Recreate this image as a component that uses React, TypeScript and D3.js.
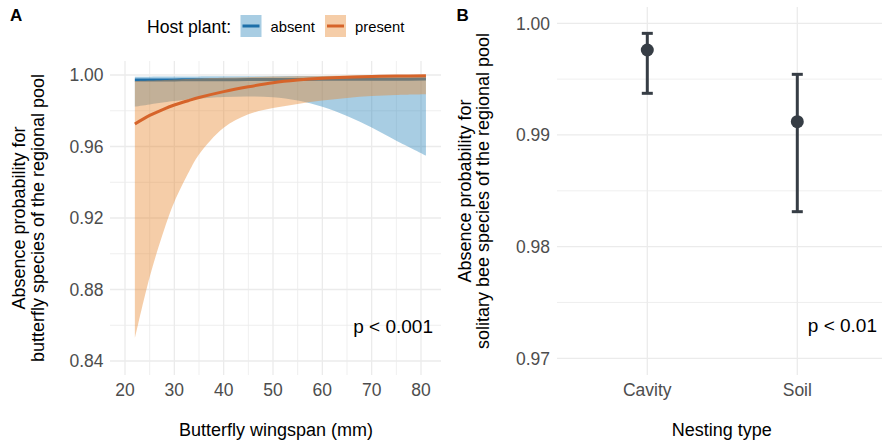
import React from "react";
import * as d3 from "d3";

// Panel A data: butterfly wingspan (mm)
const wingspan = [22, 25, 28, 30, 33, 35, 40, 45, 50, 55, 60, 65, 70, 75, 81];
const absentFit = [0.9972, 0.99722, 0.99725, 0.99727, 0.9973, 0.99732, 0.99737, 0.99742, 0.99747, 0.99752, 0.99757, 0.99761, 0.99765, 0.99768, 0.9977];
const absentUpper = [0.999, 0.99905, 0.9991, 0.99912, 0.99915, 0.99918, 0.99925, 0.9993, 0.99935, 0.9994, 0.99945, 0.9995, 0.99955, 0.9996, 0.99965];
const absentLower = [0.9823, 0.9835, 0.9847, 0.9854, 0.9863, 0.9868, 0.9877, 0.988, 0.9876, 0.9858, 0.9822, 0.977, 0.9706, 0.9632, 0.9549];
const presentFit = [0.9726, 0.9774, 0.9811, 0.9832, 0.9858, 0.9874, 0.9907, 0.9934, 0.9957, 0.9972, 0.9982, 0.9988, 0.9992, 0.9994, 0.9996];
const presentUpper = [0.9966, 0.9969, 0.9972, 0.9975, 0.9978, 0.998, 0.9984, 0.9988, 0.9991, 0.9993, 0.9995, 0.9997, 0.9998, 0.99985, 0.9999];
const presentLower = [0.8527, 0.887, 0.914, 0.929, 0.946, 0.9555, 0.9705, 0.978, 0.9815, 0.9838, 0.9857, 0.9872, 0.9882, 0.9888, 0.9892];
const xTicksA = [20, 30, 40, 50, 60, 70, 80];
const xMinorA = [15, 25, 35, 45, 55, 65, 75];
const yTicksA = [0.84, 0.88, 0.92, 0.96, 1.0];
const yMinorA = [0.86, 0.9, 0.94, 0.98];

// Panel B data: nesting type
const nesting = ["Cavity", "Soil"];
const nestEst = [0.99761, 0.99119];
const nestLower = [0.99373, 0.98313];
const nestUpper = [0.9991, 0.99543];
const yTicksB = [0.97, 0.98, 0.99, 1.0];
const yMinorB = [0.975, 0.985, 0.995];

const FONT = "'Liberation Sans', Arial, Helvetica, sans-serif";
const BLUE = "#1d6fa9";
const ORANGE = "#d6642a";
const BLUE_FILL = "#2682b9";
const ORANGE_FILL = "#e78830";
const DARK = "#363d45";
const GRID = "#ebebeb";
const TICK = "#4d4d4d";

export default function App() {
  // Panel A scales
  const xA = d3.scaleLinear().domain([20, 80]).range([125, 421]);
  const yA = d3.scaleLinear().domain([0.84, 1.0]).range([361, 75]);
  const aLeft = 110, aRight = 441, aTop = 61, aBottom = 375;

  // Panel B scales
  const xB = d3.scalePoint().domain(nesting).range([647.3, 797.3]);
  const yB = d3.scaleLinear().domain([0.97, 1.0]).range([358.3, 23.3]);
  const bLeft = 557, bRight = 882, bTop = 7, bBottom = 375;

  const idx = wingspan.map((_, i) => i);
  const curve = d3.curveCatmullRom.alpha(0.5);
  const area = (lo: number[], hi: number[]) =>
    d3.area<number>()
      .x((i) => xA(wingspan[i]))
      .y0((i) => yA(lo[i]))
      .y1((i) => yA(hi[i]))
      .curve(curve)(idx) || "";
  const line = (v: number[]) =>
    d3.line<number>()
      .x((i) => xA(wingspan[i]))
      .y((i) => yA(v[i]))
      .curve(curve)(idx) || "";

  return (
    <svg width={882} height={441} style={{ position: "absolute", left: 0, top: 0, background: "#fff" }} fontFamily={FONT}>
      {/* ---------- Panel A ---------- */}
      <g>
        {yMinorA.map((v) => (
          <line key={"ym" + v} x1={aLeft} x2={aRight} y1={yA(v)} y2={yA(v)} stroke={GRID} strokeWidth={0.8} />
        ))}
        {xMinorA.filter((v) => xA(v) >= aLeft).map((v) => (
          <line key={"xm" + v} x1={xA(v)} x2={xA(v)} y1={aTop} y2={aBottom} stroke={GRID} strokeWidth={0.8} />
        ))}
        {yTicksA.map((v) => (
          <line key={"yg" + v} x1={aLeft} x2={aRight} y1={yA(v)} y2={yA(v)} stroke={GRID} strokeWidth={1.3} />
        ))}
        {xTicksA.map((v) => (
          <line key={"xg" + v} x1={xA(v)} x2={xA(v)} y1={aTop} y2={aBottom} stroke={GRID} strokeWidth={1.3} />
        ))}

        <path d={area(absentLower, absentUpper)} fill={BLUE_FILL} fillOpacity={0.4} />
        <path d={line(absentFit)} fill="none" stroke={BLUE} strokeWidth={3} />
        <path d={area(presentLower, presentUpper)} fill={ORANGE_FILL} fillOpacity={0.42} />
        <path d={line(presentFit)} fill="none" stroke={ORANGE} strokeWidth={3} />

        {yTicksA.map((v) => (
          <text key={"yt" + v} x={103.5} y={yA(v)} dy="0.36em" textAnchor="end" fontSize={17.5} fill={TICK}>
            {d3.format(".2f")(v)}
          </text>
        ))}
        {xTicksA.map((v) => (
          <text key={"xt" + v} x={xA(v)} y={395.5} textAnchor="middle" fontSize={17.5} fill={TICK}>
            {v}
          </text>
        ))}
        <text x={276} y={435.5} textAnchor="middle" fontSize={18} fill="#000">Butterfly wingspan (mm)</text>
        <g transform={`translate(0, 218) rotate(-90)`}>
          <text x={0} y={25} textAnchor="middle" fontSize={18} fill="#000">Absence probability for</text>
          <text x={0} y={43.5} textAnchor="middle" fontSize={18} fill="#000">butterfly species of the regional pool</text>
        </g>
        <text x={433} y={333} textAnchor="end" fontSize={19} fill="#000">p &lt; 0.001</text>
        <text x={10} y={21} fontSize={17} fontWeight="bold" fill="#000">A</text>

        {/* legend */}
        <text x={147} y={32.5} fontSize={17.6} fill="#000">Host plant:</text>
        <rect x={240.5} y={15} width={21} height={22} fill={BLUE_FILL} fillOpacity={0.4} />
        <line x1={242.5} x2={259.5} y1={26} y2={26} stroke={BLUE} strokeWidth={3} />
        <text x={270.5} y={32} fontSize={14.8} fill="#000">absent</text>
        <rect x={325} y={15} width={21} height={22} fill={ORANGE_FILL} fillOpacity={0.42} />
        <line x1={327} x2={344} y1={26} y2={26} stroke={ORANGE} strokeWidth={3} />
        <text x={355} y={32} fontSize={14.8} fill="#000">present</text>
      </g>

      {/* ---------- Panel B ---------- */}
      <g>
        {yMinorB.map((v) => (
          <line key={"bym" + v} x1={bLeft} x2={bRight} y1={yB(v)} y2={yB(v)} stroke={GRID} strokeWidth={0.8} />
        ))}
        {yTicksB.map((v) => (
          <line key={"byg" + v} x1={bLeft} x2={bRight} y1={yB(v)} y2={yB(v)} stroke={GRID} strokeWidth={1.3} />
        ))}
        {nesting.map((c) => (
          <line key={"bxg" + c} x1={xB(c)} x2={xB(c)} y1={bTop} y2={bBottom} stroke={GRID} strokeWidth={1.3} />
        ))}
        {nesting.map((c, i) => {
          const x = xB(c) as number;
          return (
            <g key={"eb" + c}>
              <line x1={x} x2={x} y1={yB(nestLower[i])} y2={yB(nestUpper[i])} stroke={DARK} strokeWidth={3} />
              <line x1={x - 5.5} x2={x + 5.5} y1={yB(nestLower[i])} y2={yB(nestLower[i])} stroke={DARK} strokeWidth={3} />
              <line x1={x - 5.5} x2={x + 5.5} y1={yB(nestUpper[i])} y2={yB(nestUpper[i])} stroke={DARK} strokeWidth={3} />
              <circle cx={x} cy={yB(nestEst[i])} r={6.5} fill={DARK} />
            </g>
          );
        })}
        {yTicksB.map((v) => (
          <text key={"byt" + v} x={550} y={yB(v)} dy="0.36em" textAnchor="end" fontSize={17.5} fill={TICK}>
            {d3.format(".2f")(v)}
          </text>
        ))}
        {nesting.map((c) => (
          <text key={"bxt" + c} x={xB(c)} y={395.5} textAnchor="middle" fontSize={17.5} fill={TICK}>
            {c}
          </text>
        ))}
        <text x={721.7} y={435.5} textAnchor="middle" fontSize={18} fill="#000">Nesting type</text>
        <g transform={`translate(440, 191) rotate(-90)`}>
          <text x={0} y={31} textAnchor="middle" fontSize={18} fill="#000">Absence probability for</text>
          <text x={0} y={48.5} textAnchor="middle" fontSize={18} fill="#000">solitary bee species of the regional pool</text>
        </g>
        <text x={877} y={332} textAnchor="end" fontSize={19} fill="#000">p &lt; 0.01</text>
        <text x={456.5} y={20.5} fontSize={17} fontWeight="bold" fill="#000">B</text>
      </g>
    </svg>
  );
}
